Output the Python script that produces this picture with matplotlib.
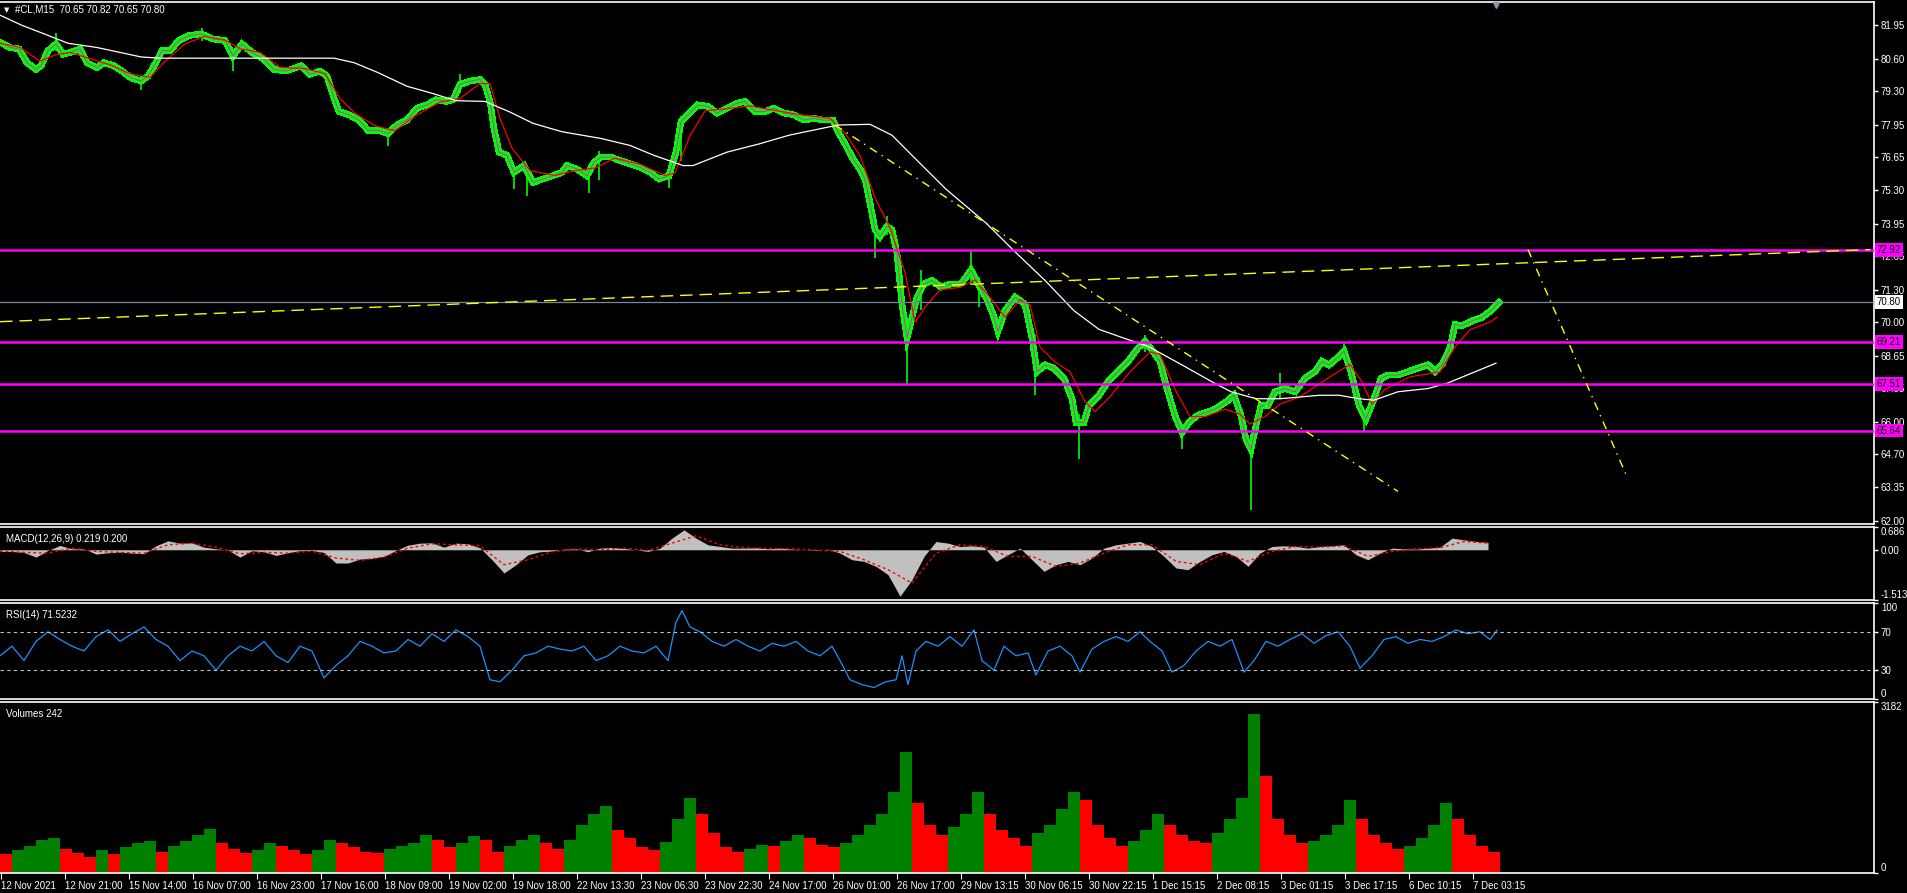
import matplotlib.pyplot as plt
import numpy as np

plt.rcParams['font.family'] = ['Liberation Sans', 'DejaVu Sans']

# ---- data (bar index = one M15 bar) ----
close_pts = [(0, 81.26), (10, 81.05), (19, 80.99), (27, 80.44), (36, 80.17), (41, 80.31), (48, 80.92),
             (56, 81.19), (63, 80.78), (70, 80.85), (80, 80.99), (87, 80.44), (97, 80.24), (104, 80.44),
             (114, 80.31), (124, 80.04), (131, 79.83), (141, 79.70), (148, 79.90), (155, 80.37), (162, 80.92),
             (170, 80.92), (179, 81.33), (189, 81.53), (201, 81.60), (213, 81.39), (225, 81.33), (233, 80.71),
             (242, 81.19), (252, 80.85), (264, 80.58), (274, 80.17), (286, 80.10), (301, 80.31), (310, 79.97),
             (320, 80.10), (327, 79.90), (334, 79.02), (339, 78.47), (349, 78.34), (359, 78.13), (368, 77.72),
             (378, 77.72), (388, 77.59), (397, 77.93), (407, 78.13), (417, 78.61), (427, 78.74), (436, 78.95),
             (446, 78.88), (453, 78.95), (460, 79.56), (470, 79.70), (480, 79.76), (485, 79.56), (490, 78.88),
             (494, 77.79), (499, 76.84), (507, 76.71), (514, 76.03), (524, 76.30), (533, 75.62), (543, 75.76),
             (553, 75.89), (562, 76.03), (567, 76.30), (577, 76.16), (587, 75.89), (594, 76.43), (601, 76.64),
             (611, 76.64), (620, 76.50), (630, 76.37), (640, 76.23), (650, 76.03), (659, 75.76), (669, 75.89),
             (676, 76.84), (681, 78.07), (688, 78.34), (698, 78.74), (708, 78.68), (717, 78.41), (727, 78.61),
             (737, 78.81), (745, 78.88), (755, 78.47), (765, 78.47), (774, 78.61), (784, 78.41), (794, 78.34),
             (804, 78.13), (814, 78.20), (823, 78.13), (833, 78.13), (838, 77.66), (846, 77.11), (853, 76.57),
             (860, 76.16), (865, 75.76), (870, 74.80), (875, 73.72), (880, 73.45), (887, 73.85), (892, 73.72),
             (897, 72.77), (902, 70.73), (907, 69.37), (912, 70.19), (917, 71.00), (924, 71.54), (932, 71.68),
             (941, 71.41), (951, 71.54), (961, 71.54), (971, 72.09), (978, 71.54), (986, 71.00), (993, 70.32),
             (998, 69.64), (1005, 70.46), (1015, 71.00), (1025, 70.73), (1032, 69.37), (1037, 68.01),
             (1045, 68.28), (1054, 68.15), (1064, 67.74), (1072, 66.92), (1076, 65.97), (1084, 65.97),
             (1089, 66.65), (1099, 67.06), (1108, 67.60), (1118, 68.01), (1128, 68.42), (1138, 68.96),
             (1145, 69.23), (1153, 68.83), (1160, 68.42), (1167, 67.33), (1175, 66.24), (1182, 65.56),
             (1189, 65.97), (1197, 66.24), (1207, 66.38), (1216, 66.52), (1226, 66.79), (1234, 67.06),
             (1241, 66.24), (1246, 65.29), (1251, 64.89), (1256, 65.84), (1261, 66.65), (1268, 66.65),
             (1275, 67.20), (1285, 67.33), (1295, 67.20), (1305, 67.74), (1315, 68.01), (1322, 68.42),
             (1329, 68.28), (1337, 68.55), (1344, 68.83), (1351, 68.01), (1359, 66.65), (1366, 66.11),
             (1374, 66.92), (1381, 67.74), (1388, 67.87), (1398, 67.87), (1408, 68.01), (1418, 68.15),
             (1428, 68.28), (1435, 68.01), (1442, 68.28), (1450, 68.96), (1455, 69.91), (1462, 69.85),
             (1472, 70.05), (1482, 70.19), (1491, 70.46), (1499, 70.80)]

# (bar, low, high) of the longer wicks
wicks = [(56, 80.9, 81.65), (141, 79.35, 79.9), (202, 81.3, 81.83), (233, 80.1, 80.9), (388, 77.1, 77.8),
         (460, 79.2, 79.97), (514, 75.35, 76.3), (527, 75.08, 76.0), (589, 75.2, 76.1), (599, 75.7, 76.9),
         (669, 75.4, 76.0), (681, 76.5, 78.3), (875, 72.6, 73.9), (887, 73.5, 74.26), (907, 67.5, 70.2),
         (921, 70.5, 72.1), (971, 71.5, 72.9), (979, 70.6, 71.8), (1035, 67.06, 69.5), (1079, 64.48, 66.3),
         (1145, 68.8, 69.5), (1182, 64.89, 65.9), (1251, 62.44, 65.5), (1280, 66.9, 67.94), (1344, 68.5, 69.17),
         (1364, 65.63, 66.5)]

red_ma = [(0, 81.22), (20, 81.05), (40, 80.5), (55, 80.75), (70, 80.85), (90, 80.6), (110, 80.35), (130, 80.0),
          (150, 79.85), (165, 80.5), (185, 81.2), (205, 81.5), (225, 81.35), (240, 81.0), (260, 80.85),
          (280, 80.25), (305, 80.2), (325, 80.0), (340, 79.0), (355, 78.4), (375, 77.9), (395, 77.7), (415, 78.3),
          (440, 78.85), (460, 79.0), (480, 79.6), (490, 79.6), (500, 78.2), (512, 77.0), (530, 76.1), (555, 75.9),
          (575, 76.1), (595, 76.2), (615, 76.6), (640, 76.35), (665, 75.9), (675, 76.0), (690, 77.5), (705, 78.5),
          (730, 78.6), (750, 78.7), (770, 78.55), (800, 78.35), (830, 78.2), (845, 77.6), (860, 76.7),
          (875, 75.0), (890, 73.8), (905, 72.0), (915, 70.0), (925, 70.6), (940, 71.3), (960, 71.4), (975, 71.7),
          (990, 71.0), (1005, 70.2), (1020, 70.9), (1030, 70.7), (1040, 69.0), (1055, 68.4), (1070, 68.0),
          (1085, 66.8), (1095, 66.4), (1110, 67.0), (1130, 68.0), (1150, 68.8), (1160, 68.7), (1175, 67.3),
          (1190, 66.2), (1205, 66.2), (1225, 66.5), (1240, 66.3), (1250, 65.9), (1265, 66.2), (1280, 66.7),
          (1300, 67.0), (1330, 67.8), (1350, 68.3), (1362, 67.6), (1372, 66.7), (1385, 67.3), (1410, 67.8),
          (1440, 68.0), (1455, 69.0), (1470, 69.7), (1490, 70.0), (1497, 70.2)]

white_ma = [(0, 82.35), (22, 81.94), (44, 81.6), (68, 81.22), (97, 81.05), (141, 80.67), (160, 80.62),
            (201, 80.62), (334, 80.62), (354, 80.44), (378, 80.04), (407, 79.49), (431, 79.22), (456, 78.91),
            (485, 78.88), (509, 78.47), (533, 78.0), (562, 77.66), (601, 77.39), (630, 77.11), (654, 76.71),
            (669, 76.50), (683, 76.30), (693, 76.30), (727, 76.84), (760, 77.18), (789, 77.52), (838, 77.93),
            (870, 77.96), (892, 77.52), (912, 76.71), (946, 75.35), (986, 73.99), (1015, 72.83), (1045, 71.68),
            (1074, 70.46), (1099, 69.71), (1123, 69.37), (1148, 69.03), (1182, 68.28), (1212, 67.60),
            (1231, 67.20), (1256, 66.92), (1280, 66.92), (1320, 67.06), (1339, 67.06), (1359, 66.92),
            (1374, 66.86), (1398, 67.20), (1428, 67.33), (1447, 67.54), (1467, 67.87), (1496, 68.35)]

levels = [72.92, 69.21, 67.51, 65.64]
bid = 70.80
trend_long = [(0, 70.02), (1870, 72.92)]
trend_down = [(835, 77.93), (1398, 63.19)]
trend_steep = [(1528, 72.92), (1627, 63.78)]

price_ticks = [81.95, 80.60, 79.30, 77.95, 76.65, 75.30, 73.95, 72.65, 71.30, 70.00, 68.65, 67.35, 66.00,
               64.70, 63.35, 62.00]

macd_step = 12
macd_hist = [-0.05, -0.05, -0.08, -0.22, -0.02, 0.13, 0.03, 0.03, -0.13, -0.09, -0.07, -0.1, -0.12, 0.12, 0.27,
             0.2, 0.21, 0.08, 0.03, -0.01, -0.22, -0.03, -0.06, -0.17, -0.09, -0.03, -0.02, -0.08, -0.4, -0.4,
             -0.28, -0.26, -0.2, -0.02, 0.14, 0.2, 0.21, 0.08, 0.2, 0.18, 0.06, -0.3, -0.7, -0.45, -0.15, -0.06,
             -0.04, 0.02, 0.03, -0.06, 0.05, 0.07, 0.04, 0.0, -0.05, 0.05, 0.35, 0.6, 0.35, 0.15, 0.1, 0.05, 0.05,
             0.06, 0.03, 0.05, 0.02, 0.0, -0.02, 0.02, -0.1, -0.3, -0.35, -0.5, -0.75, -1.4, -0.9, -0.2, 0.25, 0.2,
             0.1, 0.12, 0.08, -0.35, -0.15, 0.05, -0.3, -0.65, -0.45, -0.35, -0.45, -0.25, 0.05, 0.15, 0.2, 0.25,
             0.1, -0.2, -0.55, -0.6, -0.35, -0.15, -0.05, -0.2, -0.5, -0.1, 0.1, 0.12, 0.1, 0.05, 0.1, 0.12, 0.15,
             -0.15, -0.3, -0.1, 0.05, 0.03, 0.02, 0.05, 0.08, 0.35, 0.3, 0.25, 0.22]
signal_step = 24
macd_signal = [-0.04, -0.08, -0.1, 0.05, -0.05, -0.08, -0.1, 0.15, 0.2, 0.08, -0.12, -0.08, -0.1, -0.04, -0.25,
               -0.32, -0.22, 0.05, 0.18, 0.15, 0.12, -0.45, -0.3, -0.06, 0.02, 0.0, 0.05, -0.02, 0.2, 0.42, 0.15,
               0.06, 0.04, 0.03, -0.01, -0.05, -0.3, -0.6, -1.0, -0.1, 0.15, 0.1, -0.2, -0.2, -0.5, -0.4, -0.1,
               0.15, 0.15, -0.35, -0.45, -0.1, -0.35, -0.05, 0.1, 0.08, 0.12, -0.2, -0.05, 0.03, 0.06, 0.25, 0.2]

rsi_pts = [(0, 45), (12, 55), (24, 40), (36, 60), (48, 70), (60, 62), (72, 55), (84, 50), (96, 65), (108, 72),
           (120, 60), (132, 68), (144, 75), (156, 62), (168, 55), (180, 40), (192, 50), (204, 45), (216, 30),
           (228, 45), (240, 55), (252, 50), (264, 60), (276, 45), (288, 38), (300, 55), (312, 50), (324, 22),
           (336, 35), (348, 45), (360, 60), (372, 55), (384, 48), (396, 50), (408, 62), (420, 55), (432, 68),
           (444, 60), (456, 72), (468, 65), (480, 55), (490, 20), (500, 18), (512, 30), (524, 45), (536, 48),
           (548, 55), (560, 52), (572, 50), (584, 55), (596, 40), (608, 45), (620, 55), (632, 50), (644, 48),
           (656, 55), (668, 40), (676, 80), (682, 92), (690, 75), (700, 70), (712, 60), (724, 55), (736, 62),
           (748, 55), (760, 50), (772, 58), (784, 55), (796, 60), (808, 50), (820, 45), (832, 55), (840, 40),
           (850, 20), (862, 15), (874, 12), (886, 18), (896, 20), (902, 45), (908, 15), (916, 50), (926, 60),
           (938, 55), (950, 65), (962, 55), (974, 72), (982, 40), (994, 30), (1004, 55), (1016, 45), (1028, 48),
           (1036, 25), (1048, 50), (1060, 55), (1072, 45), (1080, 28), (1092, 52), (1104, 60), (1116, 65),
           (1128, 60), (1140, 70), (1150, 60), (1162, 50), (1172, 28), (1184, 35), (1196, 50), (1208, 60),
           (1220, 55), (1232, 62), (1244, 28), (1254, 40), (1266, 60), (1278, 55), (1290, 62), (1302, 68),
           (1314, 58), (1326, 66), (1338, 70), (1350, 55), (1360, 32), (1372, 45), (1384, 62), (1396, 65),
           (1408, 58), (1420, 62), (1432, 60), (1444, 65), (1456, 72), (1468, 68), (1480, 70), (1490, 62),
           (1497, 71.5)]

vol_step = 12
volumes = [350, 420, 500, 620, 650, 450, 380, 300, 420, 350, 480, 550, 600, 400, 500, 600, 700, 820, 550, 450,
           380, 420, 560, 500, 420, 360, 420, 620, 560, 480, 400, 380, 450, 500, 560, 700, 620, 480, 560, 680,
           620, 400, 500, 620, 700, 560, 450, 620, 900, 1100, 1250, 800, 650, 480, 420, 580, 1000, 1400, 1100,
           750, 480, 400, 450, 520, 500, 600, 700, 650, 520, 480, 550, 700, 900, 1100, 1500, 2250, 1300, 900,
           700, 850, 1100, 1500, 1100, 800, 650, 500, 750, 900, 1200, 1500, 1350, 900, 650, 500, 600, 800, 1100,
           900, 700, 600, 550, 750, 1000, 1400, 2950, 1800, 1000, 700, 550, 600, 700, 900, 1350, 1000, 700, 550,
           450, 500, 650, 900, 1300, 1000, 700, 500, 400]

date_labels = ['12 Nov 2021', '12 Nov 21:00', '15 Nov 14:00', '16 Nov 07:00', '16 Nov 23:00', '17 Nov 16:00',
               '18 Nov 09:00', '19 Nov 02:00', '19 Nov 18:00', '22 Nov 13:30', '23 Nov 06:30', '23 Nov 22:30',
               '24 Nov 17:00', '26 Nov 01:00', '26 Nov 17:00', '29 Nov 13:15', '30 Nov 06:15', '30 Nov 22:15',
               '1 Dec 15:15', '2 Dec 08:15', '3 Dec 01:15', '3 Dec 17:15', '6 Dec 10:15', '7 Dec 03:15']

# ---- layout ----
W, H = 1907, 893
PLOT_W = 1874
fig = plt.figure(figsize=(W / 100, H / 100), dpi=100, facecolor='black')


def panel(top, bottom):
    ax = fig.add_axes([0, 1 - bottom / H, PLOT_W / W, (bottom - top) / H])
    ax.set_facecolor('black')
    for s in ['top', 'bottom', 'right']:
        ax.spines[s].set_color('white')
        ax.spines[s].set_linewidth(1.2)
    ax.spines['left'].set_visible(False)
    ax.yaxis.tick_right()
    ax.tick_params(axis='y', colors='white', labelsize=7, length=3, width=1, pad=2)
    ax.tick_params(axis='x', bottom=False, labelbottom=False)
    ax.set_xlim(0, PLOT_W)
    return ax


ax_p = panel(2, 524)
ax_m = panel(527, 600)
ax_r = panel(603, 699)
ax_v = panel(702, 873)

# ---- price panel ----
ax_p.set_ylim(61.88, 82.88)
ax_p.set_yticks(price_ticks)
ax_p.set_yticklabels(['%.2f' % t for t in price_ticks])

cx, cy = zip(*close_pts)
wx, wlo, whi = zip(*wicks)
ax_p.vlines(wx, wlo, whi, color='#00ff00', lw=1.2, zorder=2)
ax_p.plot(cx, cy, color='#00ff00', lw=4.0, solid_joinstyle='miter', antialiased=False, zorder=2)
ax_p.plot(cx, cy, color='#ff00ff', lw=0.6, zorder=3)
rx, ry = zip(*red_ma)
ax_p.plot(rx, ry, color='#ff0000', lw=0.9, zorder=3)
mx, my = zip(*white_ma)
ax_p.plot(mx, my, color='white', lw=0.9, zorder=3)

ax_p.axhline(bid, color='#778899', lw=0.9, zorder=4)
for lv in levels:
    ax_p.axhline(lv, color='#ff00ff', lw=1.8, zorder=5)
for seg, ls in [(trend_long, (0, (9, 5))), (trend_down, (0, (6, 4, 1, 4))), (trend_steep, (0, (6, 4, 1, 4)))]:
    sx, sy = zip(*seg)
    ax_p.plot(sx, sy, color='#ffff00', lw=1.0, linestyle=ls, zorder=5)

ytr = ax_p.get_yaxis_transform()
for lv in levels:
    ax_p.text(1.0015, lv, '%.2f' % lv, transform=ytr, va='center', ha='left', fontsize=7, color='black',
              bbox=dict(boxstyle='square,pad=0.2', fc='#ff00ff', ec='none'), clip_on=False, zorder=10)
ax_p.text(1.0015, bid, '%.2f' % bid, transform=ytr, va='center', ha='left', fontsize=7, color='black',
          bbox=dict(boxstyle='square,pad=0.2', fc='white', ec='none'), clip_on=False, zorder=10)

fig.text(4 / W, 1 - 10 / H, '\u25bc', color='white', fontsize=5, va='center', family='DejaVu Sans')
fig.text(15 / W, 1 - 10 / H, '#CL,M15  70.65 70.82 70.65 70.80', color='white', fontsize=7, va='center')
ax_p.plot([1496], [82.75], marker='v', color='#8c96a0', ms=5, zorder=6, clip_on=False)

# ---- MACD ----
ax_m.set_ylim(-1.513, 0.686)
hx = np.arange(len(macd_hist)) * macd_step
ax_m.fill_between(hx, 0, macd_hist, color='#c0c0c0', lw=0)
sx = np.arange(len(macd_signal)) * signal_step
ax_m.plot(sx, macd_signal, color='#ff0000', lw=1, linestyle=(0, (2, 2)))
ax_m.set_yticks([0.686, 0.0, -1.513])
ax_m.set_yticklabels(['0.686', '0.00', '-1.513'])
ax_m.get_yticklabels()[0].set_va('top')
ax_m.get_yticklabels()[2].set_va('bottom')
ax_m.text(6 / PLOT_W, 0.9, 'MACD(12,26,9) 0.219 0.200', transform=ax_m.transAxes, color='white', fontsize=7,
          va='top')

# ---- RSI ----
ax_r.set_ylim(0, 100)
rsx, rsy = zip(*rsi_pts)
ax_r.plot(rsx, rsy, color='#1e90ff', lw=0.9)
for lv in (30, 70):
    ax_r.axhline(lv, color='#c0c0c0', lw=0.8, linestyle=(0, (3, 3)))
ax_r.set_yticks([100, 70, 30, 0])
ax_r.set_yticklabels(['100', '70', '30', '0'])
ax_r.get_yticklabels()[0].set_va('top')
ax_r.get_yticklabels()[3].set_va('bottom')
ax_r.text(6 / PLOT_W, 0.93, 'RSI(14) 71.5232', transform=ax_r.transAxes, color='white', fontsize=7, va='top')

# ---- Volumes ----
ax_v.set_ylim(0, 3182)
vx = np.arange(len(volumes)) * vol_step
vcol = ['#008000' if i > 0 and volumes[i] > volumes[i - 1] else '#ff0000' for i in range(len(volumes))]
ax_v.bar(vx, volumes, width=vol_step, color=vcol, lw=0, align='edge')
ax_v.set_yticks([3182, 0])
ax_v.set_yticklabels(['3182', '0'])
ax_v.get_yticklabels()[0].set_va('top')
ax_v.get_yticklabels()[1].set_va('bottom')
ax_v.text(6 / PLOT_W, 0.96, 'Volumes 242', transform=ax_v.transAxes, color='white', fontsize=7, va='top')

ax_v.set_xticks([1 + 64 * i for i in range(len(date_labels))])
ax_v.set_xticklabels(date_labels, ha='left')
ax_v.tick_params(axis='x', bottom=True, labelbottom=True, colors='white', labelsize=7, length=4, pad=2)

fig.savefig('out.png', dpi=100, facecolor='black')
